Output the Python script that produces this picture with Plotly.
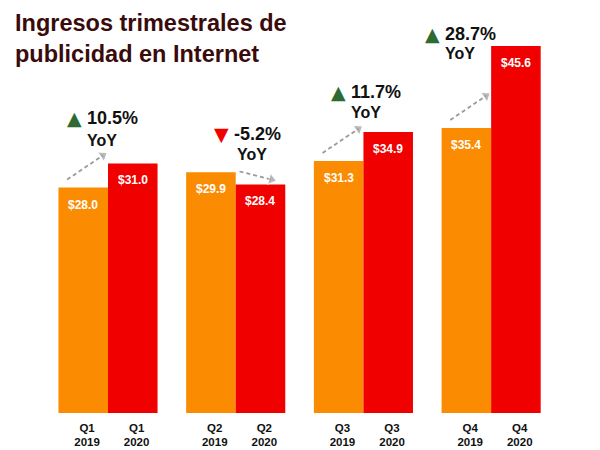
import plotly.graph_objects as go

# ---- data ----
quarters = ["Q1", "Q2", "Q3", "Q4"]
rev_2019 = [28.0, 29.9, 31.3, 35.4]
rev_2020 = [31.0, 28.4, 34.9, 45.6]
yoy_pct = [10.5, -5.2, 11.7, 28.7]
year_a = "2019"
year_b = "2020"
title_text = "Ingresos trimestrales de<br>publicidad en Internet"

# ---- style ----
ORANGE = "#FB8B00"
RED = "#F10000"
GREEN = "#2E6B33"
TITLE_COLOR = "#3A0B0B"
GRAY = "#9A9A9A"
BAR_W = 0.388
FONT = "Arial, Liberation Sans, sans-serif"

# label layout (offset from group center in x, offset above tallest bar in y)
PCT_POS = [(-0.18, 5.6), (-0.03, 4.76), (-0.11, 4.98), (-0.38, 1.48)]
YOY_POS = [(-0.18, 2.9, "left"), (0.13, 2.15, "center"), (-0.11, 2.49, "left"), (-0.38, -0.88, "left")]

groups = list(range(len(quarters)))

fig = go.Figure()
fig.add_trace(go.Bar(x=groups, y=rev_2019, offset=-BAR_W, width=BAR_W,
                     marker=dict(color=ORANGE, line=dict(width=0)), hoverinfo="skip"))
fig.add_trace(go.Bar(x=groups, y=rev_2020, offset=0, width=BAR_W,
                     marker=dict(color=RED, line=dict(width=0)), hoverinfo="skip"))

annotations = []
# value labels inside bars
for g in groups:
    for v, xo in ((rev_2019[g], -BAR_W / 2), (rev_2020[g], BAR_W / 2)):
        annotations.append(dict(x=g + xo, y=v, xref="x", yref="y", text=f"<b>${v:.1f}</b>",
                                showarrow=False, yanchor="middle", yshift=-17,
                                font=dict(family=FONT, size=12, color="white")))

# dashed arrows + YoY labels
for g in groups:
    up = yoy_pct[g] > 0
    if up:
        xs = [g - 0.32, g - 0.04]
        ys = [rev_2019[g] + 1.0, rev_2019[g] + 4.0]
    else:
        xs = [g + 0.03, g + 0.28]
        ys = [rev_2019[g] + 0.1, rev_2019[g] - 0.9]
    fig.add_trace(go.Scatter(x=xs, y=ys, mode="lines+markers",
                             line=dict(color=GRAY, width=1.8, dash="4px,3px"),
                             marker=dict(symbol="triangle-up", size=[0, 10], color=GRAY,
                                         angleref="previous"),
                             hoverinfo="skip"))
    top = max(rev_2019[g], rev_2020[g])
    px, py = PCT_POS[g]
    tri = "▲" if up else "▼"
    tri_col = GREEN if up else RED
    annotations.append(dict(x=g + px, y=top + py, xref="x", yref="y", text=tri,
                            showarrow=False, xanchor="right", yanchor="middle", xshift=-1,
                            font=dict(family="DejaVu Sans", size=19, color=tri_col)))
    annotations.append(dict(x=g + px, y=top + py, xref="x", yref="y",
                            text=f"<b>{yoy_pct[g]:.1f}%</b>",
                            showarrow=False, xanchor="left", yanchor="middle",
                            font=dict(family=FONT, size=18, color="#111111")))
    yx, yy, anc = YOY_POS[g]
    annotations.append(dict(x=g + yx, y=top + yy, xref="x", yref="y", text="<b>YoY</b>",
                            showarrow=False, xanchor=anc, yanchor="middle",
                            font=dict(family=FONT, size=16, color="#111111")))

# title
annotations.append(dict(x=0.008, y=1.0, xref="paper", yref="paper", text=f"<b>{title_text}</b>",
                        showarrow=False, xanchor="left", yanchor="top", align="left",
                        font=dict(family=FONT, size=23.5, color=TITLE_COLOR)))

tickvals = []
ticktext = []
for g in groups:
    tickvals += [g - BAR_W / 2 + 0.03, g + BAR_W / 2 + 0.03]
    ticktext += [f"<b>{quarters[g]}<br>{year_a}</b>", f"<b>{quarters[g]}<br>{year_b}</b>"]

fig.update_layout(
    width=600, height=450,
    margin=dict(l=0, r=0, t=0, b=45),
    plot_bgcolor="white", paper_bgcolor="white",
    barmode="overlay", showlegend=False,
    annotations=annotations,
    xaxis=dict(range=[-0.783, 3.915], tickvals=tickvals, ticktext=ticktext,
               showgrid=False, zeroline=False, showline=False, ticks="",
               tickfont=dict(family=FONT, size=11.5, color="#111111"), ticklabelstandoff=6),
    yaxis=dict(range=[0, 50.31], visible=False),
)

fig.write_html("out.html")
